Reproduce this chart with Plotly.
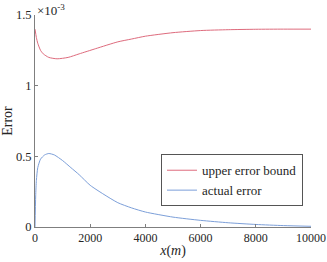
import plotly.graph_objects as go

# data (error values in units of 1e-3)
x_upper = [0, 50, 100, 200, 300, 500, 800, 1200, 1600, 2200, 3000, 3500, 4000, 5000, 6000, 7000, 8000, 9000, 10000]
upper_bound = [1.40, 1.34, 1.30, 1.25, 1.225, 1.20, 1.19, 1.20, 1.225, 1.262, 1.31, 1.33, 1.35, 1.375, 1.39, 1.396, 1.399, 1.40, 1.40]

x_actual = [0, 25, 50, 100, 200, 350, 500, 700, 1000, 1300, 1600, 2000, 2500, 3000, 3500, 4000, 5000, 6000, 7000, 8000, 9000, 10000]
actual_error = [0, 0.22, 0.33, 0.42, 0.48, 0.51, 0.52, 0.51, 0.47, 0.42, 0.37, 0.295, 0.23, 0.172, 0.135, 0.106, 0.07, 0.047, 0.03, 0.018, 0.01, 0.005]

y_tickvals = [0, 0.5, 1, 1.5]
y_ticktext = ["0", "0.5", "1", "1.5"]
x_tickvals = [0, 2000, 4000, 6000, 8000, 10000]
x_ticktext = ["0", "2000", "4000", "6000", "8000", "10000"]

scale = 1e-3
FONT = "Liberation Serif"
AXIS = "#7f7f7f"

fig = go.Figure()
fig.add_trace(go.Scatter(x=x_upper, y=[v * scale for v in upper_bound], mode="lines",
                         line=dict(color="#DE6B7D", width=1, shape="spline", smoothing=0.6),
                         name="upper error bound"))
fig.add_trace(go.Scatter(x=x_actual, y=[v * scale for v in actual_error], mode="lines",
                         line=dict(color="#7C9FD9", width=1, shape="spline", smoothing=0.6),
                         name="actual error"))

fig.update_layout(
    width=327, height=262,
    margin=dict(l=35, r=16, t=15, b=35, autoexpand=False),
    paper_bgcolor="white", plot_bgcolor="white",
    font=dict(family=FONT, size=12, color="#262626"),
    showlegend=True,
    legend=dict(x=0.971, xanchor="right", y=0.343, yanchor="top",
                bordercolor="#555555", borderwidth=1, bgcolor="white",
                font=dict(family=FONT, size=13, color="#262626"),
                tracegroupgap=0, itemwidth=30, entrywidth=148),
    xaxis=dict(range=[0, 10000], tickvals=x_tickvals, ticktext=x_ticktext, ticks="inside", ticklen=3,
               tickcolor=AXIS, showline=True, linecolor=AXIS, linewidth=1, automargin=False,
               showgrid=False, zeroline=False, tickfont=dict(size=12),
               title=dict(text="<i>x</i>(<i>m</i>)", font=dict(size=14), standoff=0)),
    yaxis=dict(range=[0, 1.5e-3], tickvals=[v * scale for v in y_tickvals], ticktext=y_ticktext,
               ticks="inside", ticklen=3, tickcolor=AXIS, showline=True, linecolor=AXIS,
               linewidth=1, showgrid=False, zeroline=False, tickfont=dict(size=12.5), automargin=False,
               title=dict(text="Error", font=dict(size=14), standoff=0)),
)

fig.add_annotation(text="×10<sup>-3</sup>", xref="paper", yref="paper", x=0, y=1.0,
                   xanchor="left", yanchor="bottom", showarrow=False,
                   font=dict(family=FONT, size=13, color="#262626"), yshift=-5)

fig.write_html("out.html", config={"displayModeBar": False},
               post_script="document.body.style.margin='0';document.body.style.padding='0';")
